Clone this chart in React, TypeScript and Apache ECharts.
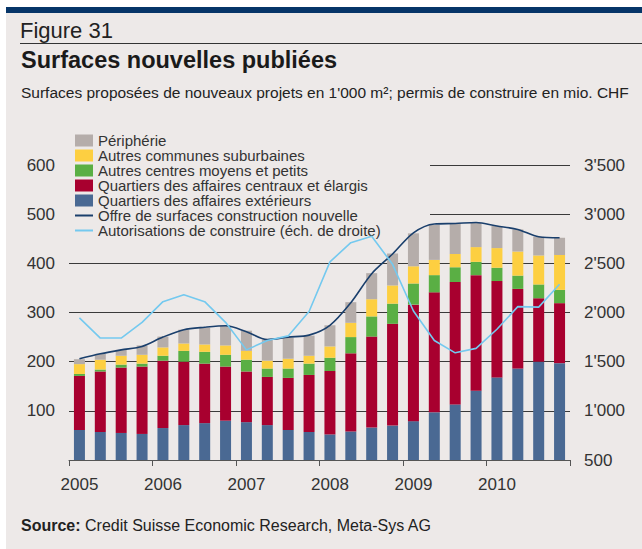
import React, { useEffect, useRef } from "react";
import * as echarts from "echarts";

// Categories (quarters 2005 Q1 .. 2010 Q4)
const quarters = [
  "2005 T1", "2005 T2", "2005 T3", "2005 T4",
  "2006 T1", "2006 T2", "2006 T3", "2006 T4",
  "2007 T1", "2007 T2", "2007 T3", "2007 T4",
  "2008 T1", "2008 T2", "2008 T3", "2008 T4",
  "2009 T1", "2009 T2", "2009 T3", "2009 T4",
  "2010 T1", "2010 T2", "2010 T3", "2010 T4",
];

// Stacked bars, 1'000 m2 (left axis)
const exterieurs = [61, 57, 55, 53, 65, 71, 75, 80, 77, 71, 61, 57, 52, 58, 66, 70, 79, 97, 113, 141, 168, 186, 200, 197];
const centraux = [110, 123, 133, 137, 137, 129, 121, 110, 103, 98, 106, 116, 129, 159, 185, 207, 237, 244, 249, 235, 196, 162, 129, 122];
const autresCentres = [4, 4, 6, 6, 10, 22, 24, 24, 24, 17, 19, 23, 27, 33, 41, 41, 43, 35, 30, 27, 27, 27, 28, 27];
const autresCommunes = [20, 20, 18, 18, 17, 15, 15, 19, 18, 16, 20, 16, 23, 29, 35, 37, 35, 31, 27, 30, 40, 49, 59, 71];
const peripherie = [10, 12, 12, 19, 22, 28, 34, 40, 41, 43, 43, 41, 43, 42, 53, 65, 67, 71, 62, 49, 45, 45, 38, 35];

// Lines
const offre = [206, 216, 224, 231, 250, 265, 270, 273, 261, 245, 250, 254, 274, 320, 379, 419, 462, 480, 481, 483, 476, 469, 454, 452];
const autorisations = [1945, 1740, 1740, 1900, 2110, 2180, 2110, 1900, 1620, 1715, 1762, 2010, 2515, 2710, 2775, 2490, 2015, 1715, 1590, 1635, 1830, 2060, 2055, 2288];

const FONT = "'Liberation Sans', Arial, Helvetica, sans-serif";
const TXT = "#333333";
const GRIDLINE = "#3a3a3a";
const LINE_ICON = "path://M0,0L18,0L18,2L0,2Z";

const fmtRight = (v: number) =>
  v >= 1000 ? `${Math.floor(v / 1000)}'${String(v % 1000).padStart(3, "0")}` : String(v);

export default function App() {
  const ref = useRef<HTMLDivElement>(null);

  useEffect(() => {
    if (!ref.current) return;
    const chart = echarts.init(ref.current, undefined, { renderer: "svg" });

    const barSeries = (name: string, data: number[], color: string) => ({
      name,
      type: "bar",
      stack: "surf",
      data,
      barWidth: 11,
      itemStyle: { color },
      xAxisIndex: 0,
      yAxisIndex: 0,
    });

    chart.setOption({
      animation: false,
      textStyle: { fontFamily: FONT },
      grid: [
        { left: 69, right: 72, top: 165, bottom: 89 },
        { left: 69, right: 72, top: 165 + 295 * (200 / 600), bottom: 89 },
        { left: 430, right: 72, top: 165, height: 295 / 6 },
      ],
      legend: {
        orient: "vertical",
        left: 75,
        top: 133,
        itemWidth: 18,
        itemHeight: 12,
        itemGap: 0,
        padding: 0,
        symbolKeepAspect: true,
        textStyle: { fontSize: 15, color: TXT, fontFamily: FONT, lineHeight: 15 },
        data: [
          { name: "Périphérie", icon: "rect" },
          { name: "Autres communes suburbaines", icon: "rect" },
          { name: "Autres centres moyens et petits", icon: "rect" },
          { name: "Quartiers des affaires centraux et élargis", icon: "rect" },
          { name: "Quartiers des affaires extérieurs", icon: "rect" },
          { name: "Offre de surfaces construction nouvelle", icon: LINE_ICON },
          { name: "Autorisations de construire (éch. de droite)", icon: LINE_ICON },
        ],
      },
      xAxis: [
        {
          type: "category",
          gridIndex: 0,
          data: quarters,
          boundaryGap: true,
          axisLine: { show: true, lineStyle: { color: "#555", width: 1 } },
          axisTick: {
            show: true,
            length: 6,
            interval: (i: number) => i % 4 === 0,
            lineStyle: { color: "#555" },
          },
          axisLabel: {
            interval: 0,
            margin: 16,
            fontSize: 17,
            color: TXT,
            fontFamily: FONT,
            formatter: (v: string, i: number) => (i % 4 === 0 ? v.slice(0, 4) : ""),
          },
        },
        { type: "value", gridIndex: 1, show: false, min: 0, max: 1 },
        { type: "value", gridIndex: 2, show: false, min: 0, max: 1 },
      ],
      yAxis: [
        {
          type: "value",
          gridIndex: 0,
          min: 0,
          max: 600,
          interval: 100,
          position: "left",
          axisLine: { show: false },
          axisTick: { show: false },
          splitLine: { show: false },
          axisLabel: {
            margin: 14,
            fontSize: 17,
            color: TXT,
            fontFamily: FONT,
            formatter: (v: number) => (v === 0 ? "" : String(v)),
          },
        },
        {
          type: "value",
          gridIndex: 0,
          min: 500,
          max: 3500,
          interval: 500,
          position: "right",
          axisLine: { show: false },
          axisTick: { show: false },
          splitLine: { show: false },
          axisLabel: {
            margin: 14,
            fontSize: 17,
            color: TXT,
            fontFamily: FONT,
            formatter: fmtRight,
          },
        },
        {
          type: "value",
          gridIndex: 1,
          min: 0,
          max: 400,
          interval: 100,
          axisLine: { show: false },
          axisTick: { show: false },
          axisLabel: { show: false },
          splitLine: { show: true, lineStyle: { color: GRIDLINE, width: 1 } },
        },
        {
          type: "value",
          gridIndex: 2,
          min: 500,
          max: 600,
          interval: 100,
          axisLine: { show: false },
          axisTick: { show: false },
          axisLabel: { show: false },
          splitLine: { show: true, lineStyle: { color: GRIDLINE, width: 1 } },
        },
      ],
      series: [
        barSeries("Quartiers des affaires extérieurs", exterieurs, "#4A6993"),
        barSeries("Quartiers des affaires centraux et élargis", centraux, "#A8002F"),
        barSeries("Autres centres moyens et petits", autresCentres, "#5AAF44"),
        barSeries("Autres communes suburbaines", autresCommunes, "#FDCF41"),
        barSeries("Périphérie", peripherie, "#B5ADAA"),
        {
          name: "Offre de surfaces construction nouvelle",
          type: "line",
          data: offre,
          xAxisIndex: 0,
          yAxisIndex: 0,
          smooth: 0.3,
          symbol: "none",
          lineStyle: { color: "#1A3F6C", width: 1.6 },
          itemStyle: { color: "#1A3F6C" },
          z: 5,
        },
        {
          name: "Autorisations de construire (éch. de droite)",
          type: "line",
          data: autorisations,
          xAxisIndex: 0,
          yAxisIndex: 1,
          symbol: "none",
          lineStyle: { color: "#74C9EF", width: 1.6 },
          itemStyle: { color: "#74C9EF" },
          z: 5,
        },
      ],
      graphic: [
        {
          type: "text",
          left: 20,
          top: 19,
          style: { text: "Figure 31", font: `22px ${FONT}`, fill: "#222" },
        },
        {
          type: "line",
          shape: { x1: 20, y1: 43.5, x2: 642, y2: 43.5 },
          style: { stroke: "#333", lineWidth: 1 },
        },
        {
          type: "text",
          left: 21,
          top: 48,
          style: { text: "Surfaces nouvelles publiées", font: `bold 23.5px ${FONT}`, fill: "#1a1a1a" },
        },
        {
          type: "text",
          left: 21,
          top: 84,
          style: {
            text: "Surfaces proposées de nouveaux projets en 1'000 m²; permis de construire en mio. CHF",
            font: `15.5px ${FONT}`,
            fill: "#222",
          },
        },
        {
          type: "text",
          left: 21,
          top: 517,
          style: {
            text: "{b|Source:} Credit Suisse Economic Research, Meta-Sys AG",
            font: `16px ${FONT}`,
            fill: "#222",
            rich: {
              b: { fontWeight: "bold", fontSize: 16, fontFamily: FONT, fill: "#222" },
            },
          },
        },
      ],
    });

    return () => chart.dispose();
  }, []);

  return (
    <div style={{ position: "fixed", left: 0, top: 0, width: 642, height: 549, background: "#ffffff" }}>
      <div style={{ position: "absolute", left: 6, top: 7, right: 0, bottom: 0, background: "#EDE9E8" }} />
      <div style={{ position: "absolute", left: 6, top: 7, width: 636, height: 6, background: "#063568" }} />
      <div ref={ref} style={{ position: "absolute", left: 0, top: 0, width: 642, height: 549 }} />
    </div>
  );
}
